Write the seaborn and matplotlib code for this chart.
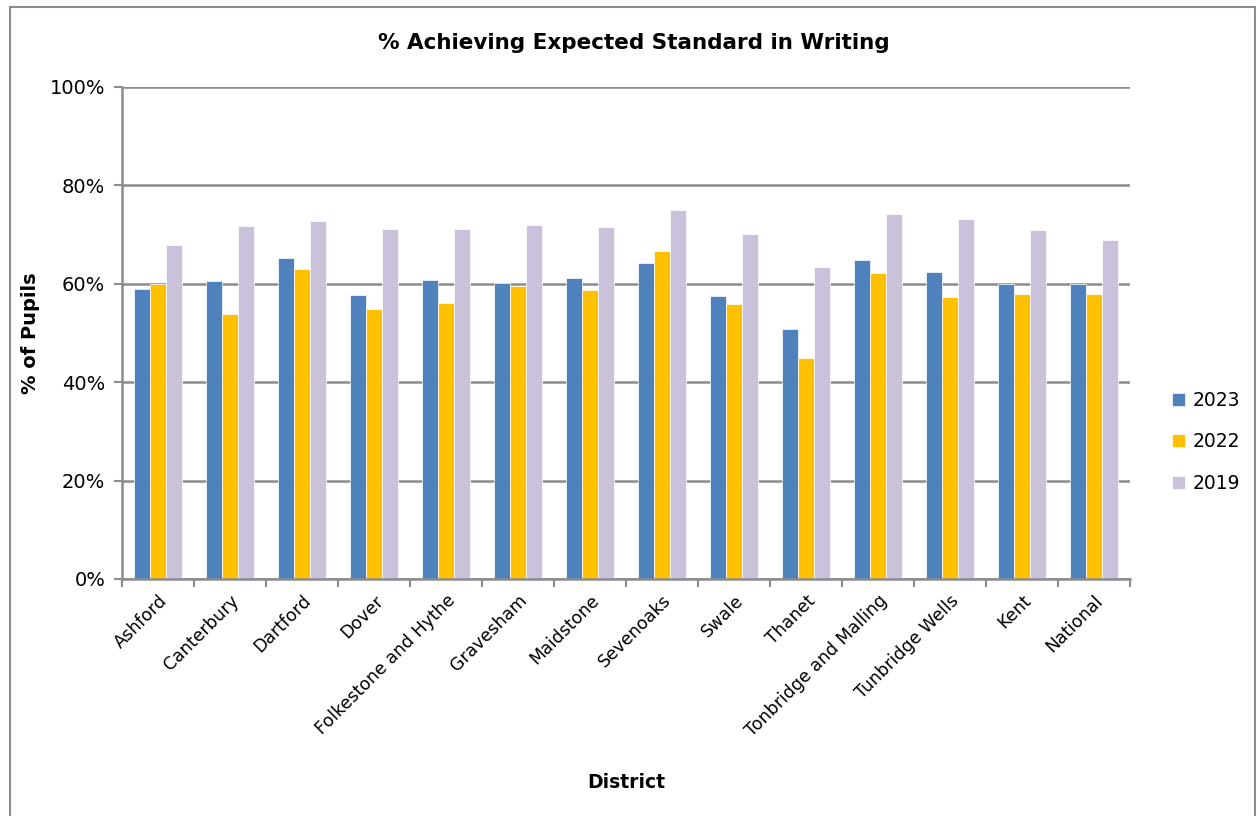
import pandas as pd
import matplotlib.pyplot as plt
import seaborn as sns
from matplotlib.patches import Rectangle

sns.set_theme(style="white")
plt.rcParams['font.family'] = ['DejaVu Sans']
plt.rcParams['text.color'] = 'black'
plt.rcParams['xtick.color'] = 'black'
plt.rcParams['ytick.color'] = 'black'
plt.rcParams['axes.labelcolor'] = 'black'

# Data
districts = ['Ashford', 'Canterbury', 'Dartford', 'Dover', 'Folkestone and Hythe',
             'Gravesham', 'Maidstone', 'Sevenoaks', 'Swale', 'Thanet',
             'Tonbridge and Malling', 'Tunbridge Wells', 'Kent', 'National']
y2023 = [59, 60.6, 65.2, 57.8, 60.8, 60.2, 61.2, 64.2, 57.5, 50.8, 64.8, 62.5, 60, 60]
y2022 = [60, 53.8, 63.1, 54.9, 56.0, 59.6, 58.7, 66.6, 55.8, 45.0, 62.1, 57.3, 58, 58]
y2019 = [67.8, 71.7, 72.8, 71.2, 71.2, 72.0, 71.6, 75.0, 70.1, 63.5, 74.1, 73.2, 70.9, 68.9]
years = ['2023', '2022', '2019']
colors = ['#4F81BD', '#FFC000', '#CCC1DA']

df = pd.DataFrame({'District': districts, '2023': y2023, '2022': y2022, '2019': y2019})
df_long = df.melt(id_vars='District', var_name='Year', value_name='Pct')

fig = plt.figure(figsize=(12.58, 8.16), dpi=100)
ax = fig.add_axes([122 / 1258, 1 - 579 / 816, (1130 - 122) / 1258, (579 - 87) / 816])

sns.barplot(data=df_long, x='District', y='Pct', hue='Year', hue_order=years,
            palette=colors, width=0.67, gap=0, saturation=1, ax=ax,
            edgecolor='white', linewidth=0.5)

ax.set_ylim(0, 100)
ax.set_xlim(-0.5, len(districts) - 0.5)
ax.set_yticks(range(0, 101, 20))
ax.set_yticklabels([f'{v}%' for v in range(0, 101, 20)], fontsize=14)
ax.yaxis.grid(True, color='#8c8c8c', linewidth=1.8)
ax.set_axisbelow(True)

# category labels on major ticks, tick marks between categories
ax.set_xticks(range(len(districts)))
ax.set_xticklabels(districts, rotation=45, ha='right', rotation_mode='anchor', fontsize=12.5)
ax.tick_params(axis='x', which='major', length=0, pad=9)
ax.set_xticks([i - 0.5 for i in range(len(districts) + 1)], minor=True)
ax.tick_params(axis='x', which='minor', length=6, color='#8c8c8c', width=1.5, direction='out', bottom=True)
ax.tick_params(axis='y', length=6, color='#8c8c8c', width=1.5, direction='out', left=True, pad=6)

for side in ['top', 'right']:
    ax.spines[side].set_visible(False)
for side in ['left', 'bottom']:
    ax.spines[side].set_color('#8c8c8c')
    ax.spines[side].set_linewidth(1.8)

ax.set_xlabel('District', fontsize=13.5, fontweight='bold', labelpad=24)
ax.set_ylabel('% of Pupils', fontsize=14, fontweight='bold')
ax.yaxis.set_label_coords(-0.081, 0.5)
fig.text(0.5035, 1 - 43 / 816, '% Achieving Expected Standard in Writing',
         ha='center', va='center', fontsize=15.5, fontweight='bold')

handles, labels = ax.get_legend_handles_labels()
ax.legend(handles, labels, loc='center left', bbox_to_anchor=(1.025, 0.279),
          frameon=False, fontsize=13.5, handlelength=0.7, handleheight=0.7,
          handletextpad=0.4, labelspacing=1.2)

# outer border of the chart
fig.patches.append(Rectangle((10 / 1258, -0.01), 1245 / 1258, 1 - 7 / 816 + 0.01,
                             transform=fig.transFigure, fill=False,
                             edgecolor='#8c8c8c', linewidth=1.5))

fig.savefig('out.png', dpi=100)
